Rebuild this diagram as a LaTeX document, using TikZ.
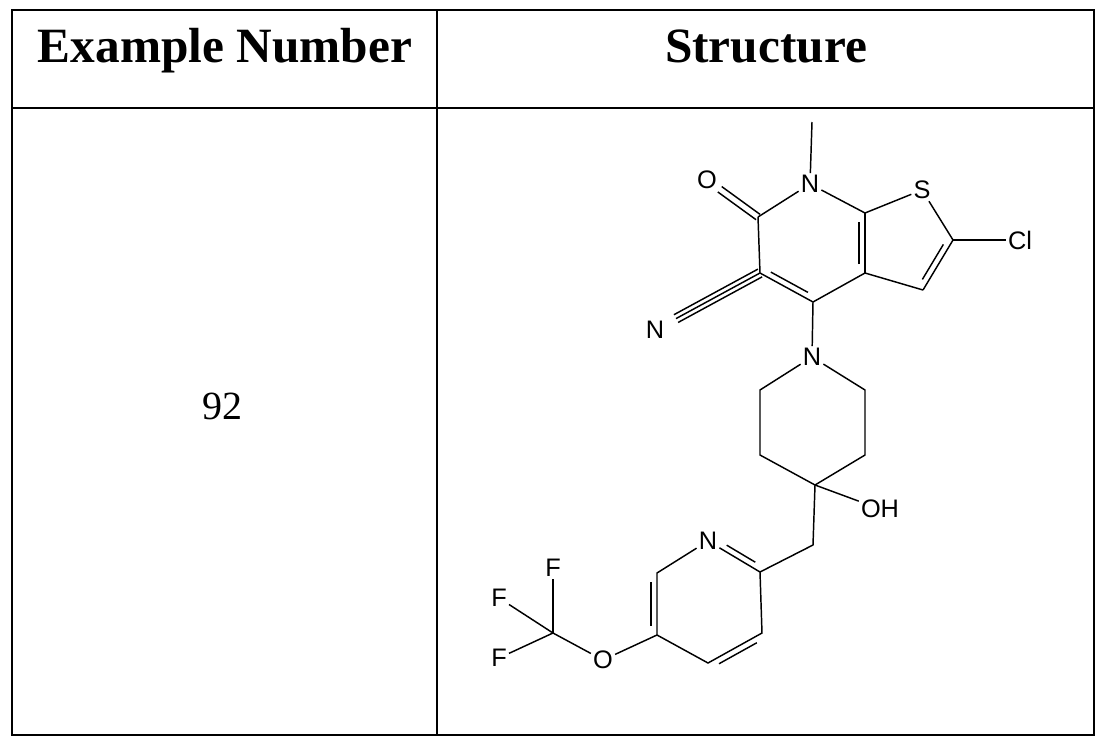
\documentclass[tikz,border=0pt]{standalone}
\usepackage{fontspec}
\setmainfont{Liberation Serif}
\newfontfamily\atomfont{Liberation Sans}
\usetikzlibrary{calc}
\newcommand\dbl[3]{\draw[bond] ($(#1)!0.15!(#2)!#3!90:(#2)$) -- ($(#2)!0.15!(#1)!#3!-90:(#1)$);}
\newcommand\pair[4]{\draw[bond] ($(#1)!#4!90:(#2)$) -- ($(#2)!#3!(#1)!#4!-90:(#1)$);}
\begin{document}
\begin{tikzpicture}[x=0.75pt,y=-0.75pt,
  grid/.style={line width=2.2pt},
  bond/.style={line width=1.1pt},
  atom/.style={font=\atomfont\fontsize{19}{19}\selectfont,inner sep=1.5pt},
  hdr/.style={font=\bfseries\fontsize{37}{37}\selectfont,anchor=base},
  body/.style={font=\fontsize{30}{30}\selectfont}]
\useasboundingbox (0,0) rectangle (1107,746);
\draw[grid] (12,10) rectangle (1094,735);
\draw[grid] (12,108) -- (1094,108);
\draw[grid] (437,10) -- (437,735);
\node[hdr] (h1) at (225,62) {Example Number};
\node[hdr] (h2) at (766,62) {Structure};
\node[body] (n92) at (222,406) {92};
% atoms
\coordinate (me) at (812,122);
\node[atom] (N1) at (810,184) {N};
\coordinate (c7) at (758,217);
\coordinate (o1c) at (707,180);
\node[atom] (O1) at (o1c) {O};
\coordinate (c6) at (760,273);
\coordinate (c5) at (813,302);
\coordinate (c4a) at (865,273);
\coordinate (c7a) at (865,213);
\node[atom] (S) at (922,190) {S};
\coordinate (c2) at (953,240);
\node[atom] (Cl) at (1020,240) {Cl};
\coordinate (c3) at (923,290);
\coordinate (nnc) at (655,330);
\node[atom] (Nn) at (nnc) {N};
\node[atom] (Np) at (812,357) {N};
\coordinate (p1) at (865,390);
\coordinate (p2) at (865,455);
\coordinate (p3) at (815,485);
\coordinate (p4) at (760,455);
\coordinate (p5) at (760,390);
\node[atom] (OH) at (880,509) {OH};
\coordinate (ch2) at (813,545);
\coordinate (y2) at (760,572);
\coordinate (nyc) at (708,541);
\node[atom] (Ny) at (nyc) {N};
\coordinate (y6) at (657,573);
\coordinate (y5) at (657,635);
\coordinate (y4) at (708,663);
\coordinate (y3) at (762,633);
\node[atom] (Oy) at (603,660) {O};
\coordinate (cf) at (553,633);
\node[atom] (F1) at (553,568) {F};
\node[atom] (F2) at (499,598) {F};
\node[atom] (F3) at (499,658) {F};
% bonds
\begin{scope}[bond]
\draw (me) -- (N1);
\draw (N1) -- (c7);
\draw (N1) -- (c7a);
\pair{c7}{o1c}{0.25}{2.5pt}
\pair{c7}{o1c}{0.25}{-2.5pt}
\draw (c7) -- (c6);
\draw (c6) -- (c5);
\dbl{c6}{c5}{4.5pt}
\draw (c5) -- (c4a);
\draw (c4a) -- (c7a);
\dbl{c4a}{c7a}{4.5pt}
\draw (c7a) -- (S);
\draw (S) -- (c2);
\draw (c2) -- (Cl);
\draw (c2) -- (c3);
\dbl{c2}{c3}{-4.5pt}
\draw (c3) -- (c4a);
\pair{c6}{nnc}{0.2}{0pt}
\pair{c6}{nnc}{0.2}{3.3pt}
\pair{c6}{nnc}{0.2}{-3.3pt}
\draw (c5) -- (Np);
\draw (Np) -- (p1) -- (p2) -- (p3) -- (p4) -- (p5) -- (Np);
\draw (p3) -- (OH);
\draw (p3) -- (ch2) -- (y2);
\draw (y2) -- (Ny);
\draw[bond] ($(y2)!0.15!(nyc)!4.5pt!-90:(nyc)$) -- ($(nyc)!0.3!(y2)!4.5pt!90:(y2)$);
\draw (Ny) -- (y6) -- (y5) -- (y4) -- (y3) -- (y2);
\dbl{y6}{y5}{-4.5pt}
\dbl{y4}{y3}{-4.5pt}
\draw (y5) -- (Oy);
\draw (Oy) -- (cf);
\draw (cf) -- (F1);
\draw (cf) -- (F2);
\draw (cf) -- (F3);
\end{scope}
\end{tikzpicture}
\end{document}
